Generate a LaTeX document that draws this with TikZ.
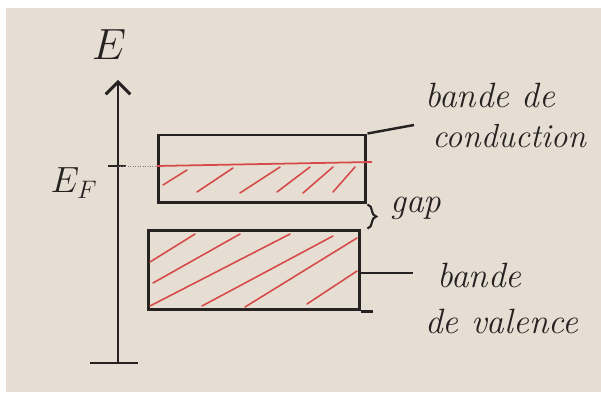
\documentclass[tikz,border=0pt]{standalone}
\usepackage{amsmath}
\usetikzlibrary{arrows.meta, decorations.pathreplacing}

\definecolor{paper}{RGB}{230,222,210}
\definecolor{ink}{RGB}{38,34,34}
\definecolor{redink}{RGB}{214,74,74}

\tikzset{
  band/.style={draw=ink, line width=1.7pt, inner sep=0pt},
  hand/.style={ink, anchor=base west, inner sep=0pt, font=\fontsize{20}{24}\selectfont\itshape},
  hatch/.style={redink, line width=0.9pt, line cap=round},
}

\begin{document}
\begin{tikzpicture}[x=0.02cm, y=-0.02cm]
    \useasboundingbox (0,0) rectangle (601,398);
    % Paper
    \fill[white] (0,0) rectangle (601,398);
    \fill[paper] (6,8) rectangle (601,392);

    % Energy axis
    \coordinate (axbot) at (118,363);
    \coordinate (axtop) at (118,80);
    \draw[ink, line width=1.7pt, -{Straight Barb[length=7pt, width=14pt]}] (axbot) -- (axtop);
    \draw[ink, line width=1.7pt] (90,363) -- (138,363);
    \node[ink, font=\fontsize{24}{28}\selectfont] (E) at (109,45) {$E$};

    % Fermi level
    \coordinate (ef) at (118,166);
    \draw[ink, line width=1.7pt] (108,166) -- (126,166);
    \node[ink, font=\fontsize{22}{26}\selectfont] (EF) at (74,183) {$E_F$};

    % Bands
    \node[band, minimum width=4.16cm, minimum height=1.36cm] (cb) at (262,169) {};
    \node[band, minimum width=4.24cm, minimum height=1.6cm] (vb) at (254,270) {};
    \draw[ink, line width=1.7pt] (vb.south east) -- ++(12,0);

    % Filled states
    \draw[gray, densely dotted] (ef) -- (cb.west |- ef);
    \draw[redink, line width=1pt] (cb.west |- ef) -- (372,162);
    \foreach \xa/\ya/\xb/\yb in {163/185/187/170, 197/192/233/168, 240/193/280/167,
                                 277/192/310/167, 303/193/333/167, 333/192/355/167}
        \draw[hatch] (\xa,\ya) -- (\xb,\yb);
    \foreach \xa/\ya/\xb/\yb in {150/262/195/234, 153/283/240/234, 150/306/290/234,
                                 202/306/333/236, 245/307/357/238, 307/304/357/271}
        \draw[hatch] (\xa,\ya) -- (\xb,\yb);

    % Gap
    \draw[ink, line width=1.2pt, decorate, decoration={brace, amplitude=5pt}]
        (cb.south east) -- (cb.east |- vb.north);
    \node[hand] (gap) at (390,213) {gap};

    % Labels
    \coordinate (cbend) at (414,125);
    \draw[ink, line width=1.4pt] (cb.north east) -- (cbend);
    \node[hand] (cb1) at (425,108) {bande de};
    \node[hand, font=\fontsize{19}{23}\selectfont\itshape] (cb2) at (432,148) {conduction};

    \coordinate (vbend) at (413,273);
    \draw[ink, line width=1.4pt] (vb.east |- vbend) -- (vbend);
    \node[hand] (vb1) at (437,287) {bande};
    \node[hand] (vb2) at (425,333) {de valence};
\end{tikzpicture}
\end{document}
